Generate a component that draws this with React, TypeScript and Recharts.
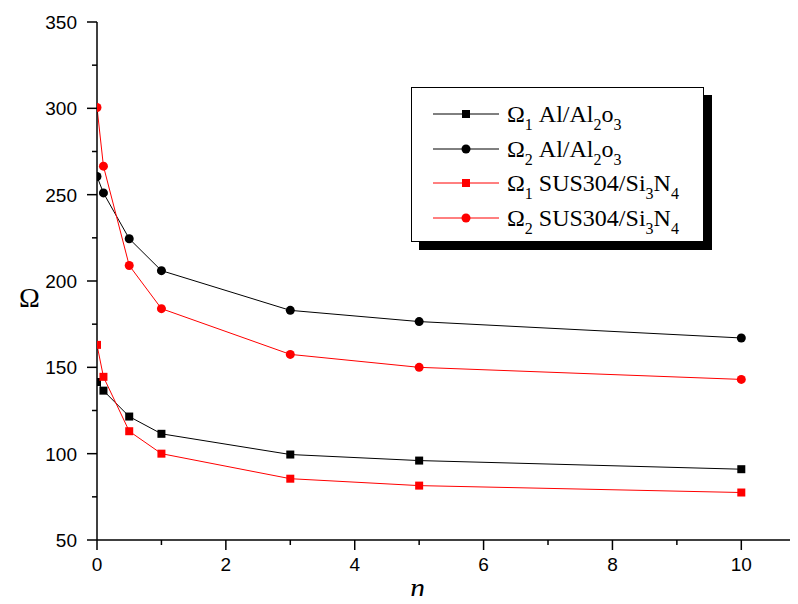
import { LineChart, Line, XAxis, YAxis } from "recharts";

const nValues = [0, 0.1, 0.5, 1, 3, 5, 10];
const omega1Al = [141.5, 136.5, 121.5, 111.5, 99.5, 96, 91];
const omega2Al = [260.5, 251, 224.5, 206, 183, 176.5, 167];
const omega1Sus = [163, 144.5, 113, 100, 85.5, 81.5, 77.5];
const omega2Sus = [300.5, 266.5, 209, 184, 157.5, 150, 143];

const xTicks = [0, 1, 2, 3, 4, 5, 6, 7, 8, 9, 10];
const yTicks = [50, 75, 100, 125, 150, 175, 200, 225, 250, 275, 300, 325, 350];

const data = nValues.map((n, i) => ({
  n,
  o1Al: omega1Al[i],
  o2Al: omega2Al[i],
  o1Sus: omega1Sus[i],
  o2Sus: omega2Sus[i],
}));

const SERIES = [
  { key: "o1Al", color: "#000000", shape: "square", sub: "1", name: "Al/Al", s1: "2", mid: "o", s2: "3" },
  { key: "o2Al", color: "#000000", shape: "circle", sub: "2", name: "Al/Al", s1: "2", mid: "o", s2: "3" },
  { key: "o1Sus", color: "#ff0000", shape: "square", sub: "1", name: "SUS304/Si", s1: "3", mid: "N", s2: "4" },
  { key: "o2Sus", color: "#ff0000", shape: "circle", sub: "2", name: "SUS304/Si", s1: "3", mid: "N", s2: "4" },
];

const tickFont = "'Liberation Sans', Arial, sans-serif";
const serif = "'Liberation Serif', 'Times New Roman', serif";

function XTick({ x, y, payload }: any) {
  const major = payload.value % 2 === 0;
  return (
    <g>
      <line x1={x} x2={x} y1={y} y2={y + (major ? 10 : 5)} stroke="#000" strokeWidth={1.5} />
      {major && (
        <text x={x} y={y + 31} textAnchor="middle" fontSize={19} fontFamily={tickFont} fill="#000">
          {payload.value}
        </text>
      )}
    </g>
  );
}

function YTick({ x, y, payload }: any) {
  const major = payload.value % 50 === 0;
  return (
    <g>
      <line x1={x - (major ? 10 : 5)} x2={x} y1={y} y2={y} stroke="#000" strokeWidth={1.5} />
      {major && (
        <text x={x - 20} y={y + 7} textAnchor="end" fontSize={19} fontFamily={tickFont} fill="#000">
          {payload.value}
        </text>
      )}
    </g>
  );
}

function makeDot(shape: string, color: string) {
  return (props: any) => {
    const { cx, cy, index } = props;
    if (shape === "square") {
      return <rect key={index} x={cx - 4} y={cy - 4} width={8} height={8} fill={color} />;
    }
    return <circle key={index} cx={cx} cy={cy} r={4.5} fill={color} />;
  };
}

const subStyle = { fontSize: 16, verticalAlign: -8, lineHeight: 0 };

function LegendBox() {
  return (
    <div
      style={{
        position: "absolute",
        left: 411,
        top: 87,
        width: 291,
        height: 153,
        border: "1.5px solid #000",
        background: "#fff",
        boxShadow: "8px 8px 0 #000",
        fontFamily: serif,
        fontSize: 24,
        color: "#000",
      }}
    >
      {SERIES.map((s, i) => (
        <div key={s.key} style={{ position: "absolute", left: 21, top: 14 + i * 34.5, height: 24, display: "flex", alignItems: "center", whiteSpace: "nowrap" }}>
          <svg width={68} height={20} style={{ display: "block" }}>
            <line x1={0} x2={66} y1={10} y2={10} stroke={s.color} strokeWidth={1} />
            {s.shape === "square" ? (
              <rect x={29} y={6} width={8} height={8} fill={s.color} />
            ) : (
              <circle cx={33} cy={10} r={4.5} fill={s.color} />
            )}
          </svg>
          <span style={{ marginLeft: 6, lineHeight: "24px" }}>
            Ω<sub style={subStyle}>{s.sub}</sub> {s.name}
            <sub style={subStyle}>{s.s1}</sub>
            {s.mid}
            <sub style={subStyle}>{s.s2}</sub>
          </span>
        </div>
      ))}
    </div>
  );
}

export default function App() {
  return (
    <div style={{ position: "relative", width: 798, height: 604, margin: -8, background: "#fff" }}>
      <LineChart width={798} height={604} data={data} margin={{ top: 22, right: 0, left: 0, bottom: 0 }}>
        <XAxis
          dataKey="n"
          type="number"
          domain={[0, 10.88]}
          ticks={xTicks}
          interval={0}
          allowDataOverflow
          height={64}
          tickSize={0}
          tickMargin={0}
          tickLine={false}
          tick={<XTick />}
          axisLine={{ stroke: "#000", strokeWidth: 1.5 }}
          label={{
            value: "n",
            position: "insideBottom",
            offset: 6,
            dx: -30,
            style: { fontFamily: serif, fontStyle: "italic", fontSize: 30, fill: "#000" },
          }}
        />
        <YAxis
          type="number"
          domain={[50, 350]}
          ticks={yTicks}
          interval={0}
          width={97}
          tickSize={0}
          tickMargin={0}
          tickLine={false}
          tick={<YTick />}
          axisLine={{ stroke: "#000", strokeWidth: 1.5 }}
          label={{
            value: "Ω",
            position: "insideLeft",
            offset: 19,
            dy: 16,
            style: { fontFamily: serif, fontSize: 28, fill: "#000" },
          }}
        />
        {SERIES.map((s) => (
          <Line
            key={s.key}
            type="linear"
            dataKey={s.key}
            stroke={s.color}
            strokeWidth={1}
            dot={makeDot(s.shape, s.color)}
            activeDot={false}
            isAnimationActive={false}
          />
        ))}
      </LineChart>
      <LegendBox />
    </div>
  );
}
